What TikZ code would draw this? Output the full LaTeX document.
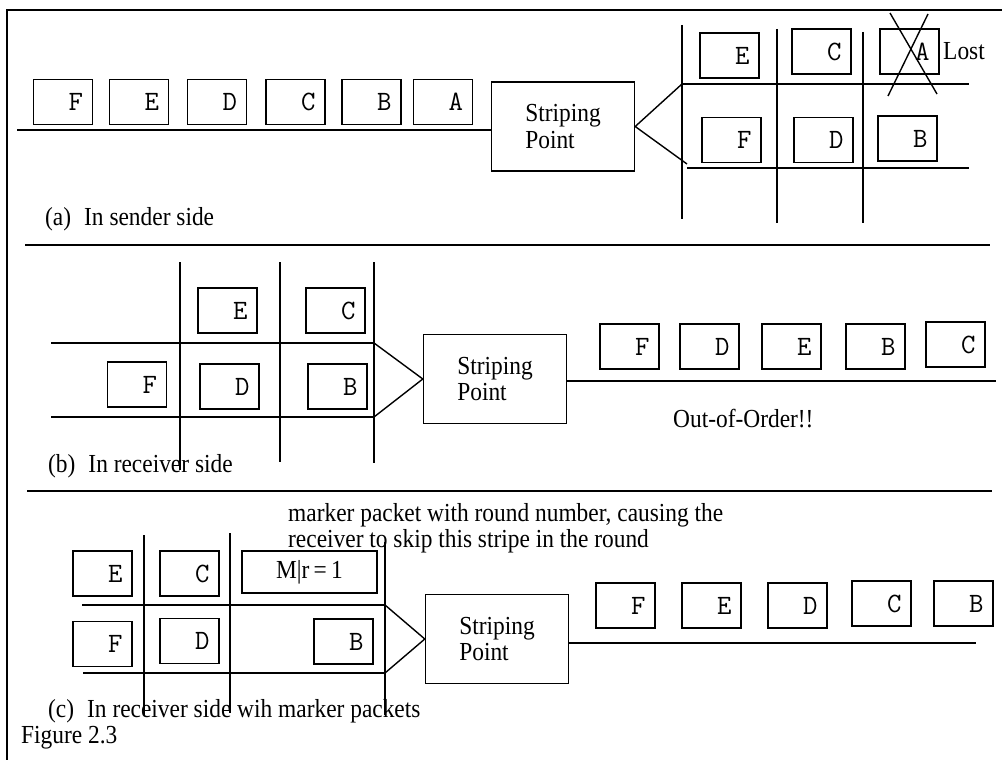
\documentclass[tikz,border=0pt]{standalone}
\usepackage{fontspec}
\setmainfont{Liberation Serif}[FakeStretch=0.9]
\begin{document}
\begin{tikzpicture}[x=1pt,y=-1pt,
  ln/.style={line width=1.4pt},
  frame/.style={line width=2pt},
  pkt/.style={draw, line width=1.4pt, minimum height=45pt, text width=40pt,
    align=right, inner xsep=9.5pt, inner ysep=0pt, font=\ttfamily\fontsize{28}{28}\selectfont},
  mpkt/.style={draw, line width=1.4pt, minimum height=42pt, minimum width=135pt,
    inner sep=0pt, font=\fontsize{26}{27}\selectfont},
  spbox/.style={draw, line width=1.4pt, minimum width=143pt, minimum height=89pt,
    align=left, inner sep=0pt, font=\fontsize{26}{26.5}\selectfont},
  lbl/.style={anchor=base west, inner sep=0pt, font=\fontsize{26}{27}\selectfont}]
\useasboundingbox (0,0) rectangle (1002,760);
% frame
\coordinate (f0) at (7,760);
\coordinate (f1) at (7,10);
\coordinate (f2) at (1002,10);
\draw[frame] (f0) -- (f1) -- (f2);
% separators
\coordinate (s1a) at (25,245); \coordinate (s1b) at (990,245);
\coordinate (s2a) at (27,491); \coordinate (s2b) at (992,491);
\draw[ln] (s1a) -- (s1b);
\draw[ln] (s2a) -- (s2b);

% ===== (a) sender side =====
\node[spbox] (spa) at (563,126.5) {Striping\\Point};
\coordinate (ain) at (17,130);
\draw[ln] (ain) -- (ain -| spa.west);
\node[pkt] (a1) at (63,102) {F};
\node[pkt] (a2) at (139,102) {E};
\node[pkt] (a3) at (217,102) {D};
\node[pkt] (a4) at (295.5,102) {C};
\node[pkt] (a5) at (371.5,102) {B};
\node[pkt] (a6) at (443,102) {A};
% grid
\coordinate (av1t) at (682,25);  \coordinate (av1b) at (682,219);
\coordinate (av2t) at (777,29);  \coordinate (av2b) at (777,223);
\coordinate (av3t) at (863,32);  \coordinate (av3b) at (863,223);
\coordinate (ah1a) at (682,84);  \coordinate (ah1b) at (969,84);
\coordinate (ah2a) at (687,168); \coordinate (ah2b) at (969,168);
\coordinate (afan2) at (687,164);
\draw[ln] (av1t) -- (av1b);
\draw[ln] (av2t) -- (av2b);
\draw[ln] (av3t) -- (av3b);
\draw[ln] (ah1a) -- (ah1b);
\draw[ln] (ah2a) -- (ah2b);
\draw[ln] (ah1a) -- (spa.east) -- (afan2);
\node[pkt] (ag1) at (729.5,55.5) {E};
\node[pkt] (ag2) at (821.5,51.5) {C};
\node[pkt] (ag3) at (909.5,51.5) {A};
\node[pkt] (ag4) at (731.5,140) {F};
\node[pkt] (ag5) at (823.5,140) {D};
\node[pkt] (ag6) at (907.5,138.5) {B};
\node[lbl] (lost) at (943,60) {Lost};
\coordinate (x1a) at (888,96); \coordinate (x1b) at (928,14);
\coordinate (x2a) at (890,13); \coordinate (x2b) at (937,94);
\draw[ln] (x1a) -- (x1b);
\draw[ln] (x2a) -- (x2b);
\node[lbl] (la) at (45,225) {(a)\enspace In sender side};

% ===== (b) receiver side =====
\node[spbox] (spb) at (495,379) {Striping\\Point};
\coordinate (bv1t) at (180,262); \coordinate (bv1b) at (180,470);
\coordinate (bv2t) at (280,262); \coordinate (bv2b) at (280,462);
\coordinate (bv3t) at (374,262); \coordinate (bv3b) at (374,463);
\coordinate (bh1a) at (51,343);  \coordinate (bh1b) at (374,343);
\coordinate (bh2a) at (51,417);  \coordinate (bh2b) at (374,417);
\draw[ln] (bv1t) -- (bv1b);
\draw[ln] (bv2t) -- (bv2b);
\draw[ln] (bv3t) -- (bv3b);
\draw[ln] (bh1a) -- (bh1b);
\draw[ln] (bh2a) -- (bh2b);
\draw[ln] (bh1b) -- (spb.west) -- (bh2b);
\node[pkt] (bg1) at (227.5,310.5) {E};
\node[pkt] (bg2) at (335.5,310.5) {C};
\node[pkt] (bg3) at (137,384.5) {F};
\node[pkt] (bg4) at (229.5,386.5) {D};
\node[pkt] (bg5) at (337.5,386.5) {B};
\coordinate (bout) at (996,381);
\draw[ln] (bout -| spb.east) -- (bout);
\node[pkt] (b1) at (629.5,346.5) {F};
\node[pkt] (b2) at (709.5,346.5) {D};
\node[pkt] (b3) at (791.5,346.5) {E};
\node[pkt] (b4) at (875.5,346.5) {B};
\node[pkt] (b5) at (955.5,344.5) {C};
\node[lbl] (ooo) at (673,427) {Out-of-Order!!};
\node[lbl] (lb) at (48,472) {(b)\enspace In receiver side};

% ===== (c) receiver side with marker packets =====
\node[lbl] (mtxt) at (288,521) {marker packet with round number, causing the};
\node[lbl] (mtxt2) at (288,547) {receiver to skip this stripe in the round};
\node[spbox] (spc) at (497,639) {Striping\\Point};
\coordinate (cv1t) at (144,535); \coordinate (cv1b) at (144,715);
\coordinate (cv2t) at (230,533); \coordinate (cv2b) at (230,713);
\coordinate (cv3t) at (385,542); \coordinate (cv3b) at (385,715);
\coordinate (ch1a) at (82,605);  \coordinate (ch1b) at (385,605);
\coordinate (ch2a) at (83,673);  \coordinate (ch2b) at (385,673);
\draw[ln] (cv1t) -- (cv1b);
\draw[ln] (cv2t) -- (cv2b);
\draw[ln] (cv3t) -- (cv3b);
\draw[ln] (ch1a) -- (ch1b);
\draw[ln] (ch2a) -- (ch2b);
\draw[ln] (ch1b) -- (spc.west) -- (ch2b);
\node[pkt] (cg1) at (102.5,573.5) {E};
\node[pkt] (cg2) at (189.5,573.5) {C};
\node[mpkt] (cg3) at (309.5,572) {M|r\,=\,1};
\node[pkt] (cg4) at (102.5,644) {F};
\node[pkt] (cg5) at (189.5,641) {D};
\node[pkt] (cg6) at (343.5,641.5) {B};
\coordinate (cout) at (976,643);
\draw[ln] (cout -| spc.east) -- (cout);
\node[pkt] (c1) at (625.5,605.5) {F};
\node[pkt] (c2) at (711.5,605.5) {E};
\node[pkt] (c3) at (797.5,605.5) {D};
\node[pkt] (c4) at (881.5,603.5) {C};
\node[pkt] (c5) at (963.5,603.5) {B};
\node[lbl] (lc) at (48,717) {(c)\enspace In receiver side wih marker packets};
\node[lbl] (fig) at (21,743) {Figure 2.3};
\end{tikzpicture}
\end{document}
